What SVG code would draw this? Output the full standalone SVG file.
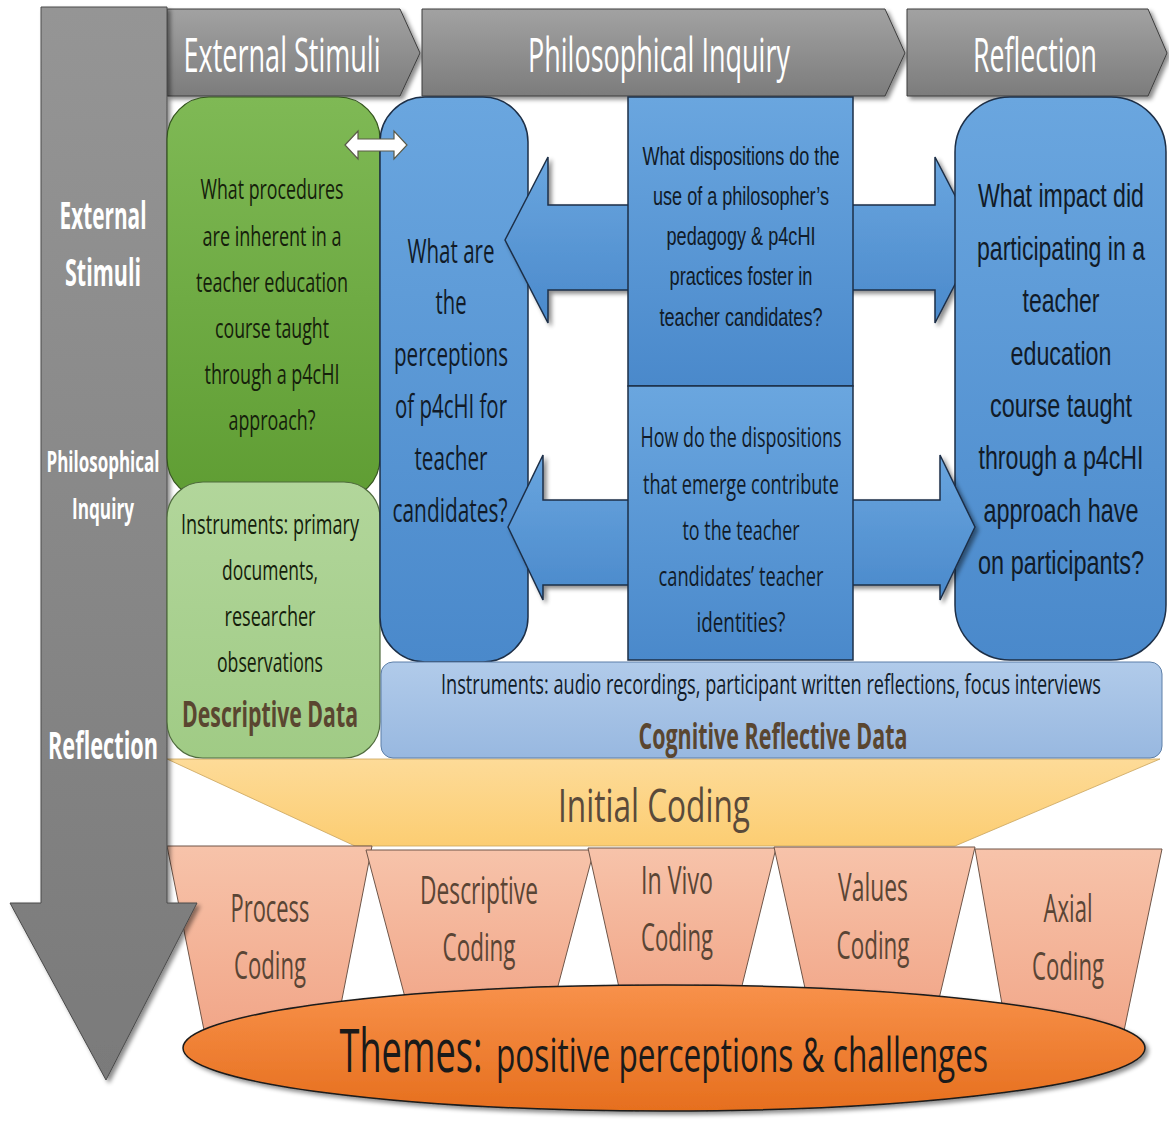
<svg xmlns="http://www.w3.org/2000/svg" width="1169" height="1128" viewBox="0 0 1169 1128">
<defs>
<linearGradient id="gGray" x1="0" y1="0" x2="0" y2="1"><stop offset="0" stop-color="#a2a2a2"/><stop offset="1" stop-color="#7c7c7c"/></linearGradient>
<linearGradient id="gCol" x1="0" y1="0" x2="0" y2="1"><stop offset="0" stop-color="#959595"/><stop offset="1" stop-color="#7a7a7a"/></linearGradient>
<linearGradient id="gGreen" x1="0" y1="0" x2="0" y2="1"><stop offset="0" stop-color="#7fb955"/><stop offset="1" stop-color="#5f9d33"/></linearGradient>
<linearGradient id="gLGreen" x1="0" y1="0" x2="0" y2="1"><stop offset="0" stop-color="#b2d69b"/><stop offset="1" stop-color="#a0cb85"/></linearGradient>
<linearGradient id="gBlue" x1="0" y1="0" x2="0" y2="1"><stop offset="0" stop-color="#6aa6df"/><stop offset="1" stop-color="#4a89cb"/></linearGradient>
<linearGradient id="gLBlue" x1="0" y1="0" x2="0" y2="1"><stop offset="0" stop-color="#b1cbea"/><stop offset="1" stop-color="#98b8e0"/></linearGradient>
<linearGradient id="gYellow" x1="0" y1="0" x2="0" y2="1"><stop offset="0" stop-color="#fddb98"/><stop offset="1" stop-color="#fccd72"/></linearGradient>
<linearGradient id="gSalmon" x1="0" y1="0" x2="0" y2="1"><stop offset="0" stop-color="#f7c3aa"/><stop offset="1" stop-color="#f1a587"/></linearGradient>
<linearGradient id="gOrange" x1="0" y1="0" x2="0" y2="1"><stop offset="0" stop-color="#f8914a"/><stop offset="1" stop-color="#e66f1e"/></linearGradient>
<filter id="sh" x="-10%" y="-10%" width="120%" height="130%"><feDropShadow dx="3" dy="3" stdDeviation="2" flood-color="#000" flood-opacity="0.45"/></filter>
<style>
.chev{fill:url(#gGray);stroke:#3c3c3c;stroke-width:1}
.ban{font-family:"Open Sans","Liberation Sans",sans-serif;fill:#ffffff;font-size:48px;text-anchor:middle}
.side{font-family:"Open Sans","Liberation Sans",sans-serif;fill:#ffffff;font-weight:bold;text-anchor:middle}
.cal{font-family:"Open Sans","Liberation Sans",sans-serif;text-anchor:middle}
.ar{font-family:"Liberation Sans","Arial",sans-serif;text-anchor:middle}
.dk{fill:#15200b}
.bk{fill:#111b28}
.br{fill:#5a4630;font-weight:bold}
.cod{fill:#5a4535;font-size:39px}
.blue{fill:url(#gBlue);stroke:#1d2f47;stroke-width:1.5}
.trap{fill:url(#gSalmon);stroke:#6e5548;stroke-width:1}
</style>
</defs>
<rect width="1169" height="1128" fill="#ffffff"/>

<g id="banners">
<polygon class="chev" filter="url(#sh)" points="167,9 400,9 420,53 400,96 167,96"/>
<polygon class="chev" filter="url(#sh)" points="422,9 885,9 905,53 885,96 422,96"/>
<polygon class="chev" filter="url(#sh)" points="907,9 1148,9 1167,53 1148,96 907,96"/>
<text class="ban" x="282" y="72" textLength="197" lengthAdjust="spacingAndGlyphs">External Stimuli</text>
<text class="ban" x="659" y="72" textLength="262" lengthAdjust="spacingAndGlyphs">Philosophical Inquiry</text>
<text class="ban" x="1035" y="72" textLength="124" lengthAdjust="spacingAndGlyphs">Reflection</text>
</g>

<g id="initial-coding">
<polygon points="167,759 1160,759 955,846 355,846" fill="url(#gYellow)" stroke="#c9a35a" stroke-width="0.8"/>
<text class="cal" x="654" y="822" font-size="46" fill="#5a4a3a" textLength="192" lengthAdjust="spacingAndGlyphs">Initial Coding</text>
</g>

<g id="coding">
<g id="process-coding"><polygon class="trap" points="167,846 372,846 334,1040 206,1040"/>
<text class="cal cod" x="270" y="922" textLength="79" lengthAdjust="spacingAndGlyphs">Process</text>
<text class="cal cod" x="270" y="979" textLength="72" lengthAdjust="spacingAndGlyphs">Coding</text></g>
<g id="descriptive-coding"><polygon class="trap" points="366,850 594,850 549,1020 411,1020"/>
<text class="cal cod" x="479" y="904" textLength="118" lengthAdjust="spacingAndGlyphs">Descriptive</text>
<text class="cal cod" x="479" y="961" textLength="73" lengthAdjust="spacingAndGlyphs">Coding</text></g>
<g id="invivo-coding"><polygon class="trap" points="588,848 776,848 736,1010 624,1010"/>
<text class="cal cod" x="677" y="894" textLength="72" lengthAdjust="spacingAndGlyphs">In Vivo</text>
<text class="cal cod" x="677" y="951" textLength="72" lengthAdjust="spacingAndGlyphs">Coding</text></g>
<g id="values-coding"><polygon class="trap" points="774,847 975,847 934,1020 812,1020"/>
<text class="cal cod" x="873" y="901" textLength="70" lengthAdjust="spacingAndGlyphs">Values</text>
<text class="cal cod" x="873" y="959" textLength="73" lengthAdjust="spacingAndGlyphs">Coding</text></g>
<g id="axial-coding"><polygon class="trap" points="975,849 1162,849 1120,1050 1010,1050"/>
<text class="cal cod" x="1068" y="922" textLength="49" lengthAdjust="spacingAndGlyphs">Axial</text>
<text class="cal cod" x="1068" y="980" textLength="72" lengthAdjust="spacingAndGlyphs">Coding</text></g>
</g>

<g id="themes">
<ellipse cx="664" cy="1048" rx="481" ry="63" fill="url(#gOrange)" stroke="#1a1a1a" stroke-width="1.5" filter="url(#sh)"/>
<text class="cal" x="411" y="1072" font-size="60" fill="#1a1a1a" textLength="143" lengthAdjust="spacingAndGlyphs">Themes:</text>
<text class="cal" x="742" y="1072" font-size="48" fill="#1a1a1a" textLength="492" lengthAdjust="spacingAndGlyphs">positive perceptions &amp; challenges</text>
</g>

<g id="stage-arrow">
<polygon points="41,7 167,7 167,903 197,903 106,1080 10,903 41,903" fill="url(#gCol)" stroke="#4a4a4a" stroke-width="1" filter="url(#sh)"/>
<text class="side" x="103" y="229" font-size="38" textLength="87" lengthAdjust="spacingAndGlyphs">External</text>
<text class="side" x="103" y="286" font-size="38" textLength="76" lengthAdjust="spacingAndGlyphs">Stimuli</text>
<text class="side" x="103" y="472" font-size="28" textLength="113" lengthAdjust="spacingAndGlyphs">Philosophical</text>
<text class="side" x="103" y="519" font-size="28" textLength="62" lengthAdjust="spacingAndGlyphs">Inquiry</text>
<text class="side" x="103" y="759" font-size="38" textLength="110" lengthAdjust="spacingAndGlyphs">Reflection</text>
</g>

<g id="procedures">
<rect x="167" y="97" width="213" height="403" rx="42" fill="url(#gGreen)" stroke="#34541e" stroke-width="1.2"/>
<g class="cal dk" font-size="28">
<text x="272" y="199" textLength="143" lengthAdjust="spacingAndGlyphs">What procedures</text>
<text x="272" y="246" textLength="139" lengthAdjust="spacingAndGlyphs">are inherent in a</text>
<text x="272" y="292" textLength="152" lengthAdjust="spacingAndGlyphs">teacher education</text>
<text x="272" y="338" textLength="114" lengthAdjust="spacingAndGlyphs">course taught</text>
<text x="272" y="384" textLength="135" lengthAdjust="spacingAndGlyphs">through a p4cHI</text>
<text x="272" y="430" textLength="87" lengthAdjust="spacingAndGlyphs">approach?</text>
</g>
</g>

<g id="descriptive-data">
<rect x="167" y="482" width="213" height="276" rx="36" fill="url(#gLGreen)" stroke="#4f6b3d" stroke-width="1.2"/>
<g class="cal dk" font-size="27">
<text x="270" y="534" textLength="178" lengthAdjust="spacingAndGlyphs">Instruments: primary</text>
<text x="270" y="580" textLength="96" lengthAdjust="spacingAndGlyphs">documents,</text>
<text x="270" y="626" textLength="91" lengthAdjust="spacingAndGlyphs">researcher</text>
<text x="270" y="672" textLength="106" lengthAdjust="spacingAndGlyphs">observations</text>
</g>
<text class="cal br" x="270" y="727" font-size="35" textLength="176" lengthAdjust="spacingAndGlyphs">Descriptive Data</text>
</g>

<g id="perceptions">
<rect class="blue" x="380" y="97" width="148" height="565" rx="45"/>
<g class="cal bk" font-size="33">
<text x="451" y="263" textLength="87" lengthAdjust="spacingAndGlyphs">What are</text>
<text x="451" y="314" textLength="31" lengthAdjust="spacingAndGlyphs">the</text>
<text x="451" y="366" textLength="114" lengthAdjust="spacingAndGlyphs">perceptions</text>
<text x="451" y="418" textLength="112" lengthAdjust="spacingAndGlyphs">of p4cHI for</text>
<text x="451" y="470" textLength="73" lengthAdjust="spacingAndGlyphs">teacher</text>
<text x="450" y="522" textLength="115" lengthAdjust="spacingAndGlyphs">candidates?</text>
</g>
</g>

<g id="connectors">
<polygon points="345,145 358,131 358,139 394,139 394,131 407,145 394,159 394,151 358,151 358,159" fill="#ffffff" stroke="#5a5a48" stroke-width="1.2"/>
<polygon class="blue" filter="url(#sh)" points="505,240 548,157 548,205 935,205 935,157 978,240 935,323 935,290 548,290 548,323"/>
</g>

<g id="impact">
<rect class="blue" x="955" y="97" width="211" height="563" rx="55"/>
<g class="ar bk" font-size="34">
<text x="1061" y="207" textLength="166" lengthAdjust="spacingAndGlyphs">What impact did</text>
<text x="1061" y="260" textLength="168" lengthAdjust="spacingAndGlyphs">participating in a</text>
<text x="1061" y="312" textLength="77" lengthAdjust="spacingAndGlyphs">teacher</text>
<text x="1061" y="365" textLength="101" lengthAdjust="spacingAndGlyphs">education</text>
<text x="1061" y="417" textLength="142" lengthAdjust="spacingAndGlyphs">course taught</text>
<text x="1061" y="469" textLength="165" lengthAdjust="spacingAndGlyphs">through a p4cHI</text>
<text x="1061" y="522" textLength="155" lengthAdjust="spacingAndGlyphs">approach have</text>
<text x="1061" y="574" textLength="166" lengthAdjust="spacingAndGlyphs">on participants?</text>
</g>
</g>

<g id="connectors-lower">
<polygon class="blue" filter="url(#sh)" points="508,527 543,455 543,500 940,500 940,455 975,527 940,600 940,585 543,585 543,600"/>
</g>

<g id="dispositions">
<rect class="blue" x="628" y="97" width="225" height="289" stroke-width="1.2"/>
<g class="ar bk" font-size="25">
<text x="741" y="165" textLength="197" lengthAdjust="spacingAndGlyphs">What dispositions do the</text>
<text x="741" y="205" textLength="176" lengthAdjust="spacingAndGlyphs">use of a philosopher’s</text>
<text x="741" y="245" textLength="149" lengthAdjust="spacingAndGlyphs">pedagogy &amp; p4cHI</text>
<text x="741" y="285" textLength="143" lengthAdjust="spacingAndGlyphs">practices foster in</text>
<text x="741" y="326" textLength="163" lengthAdjust="spacingAndGlyphs">teacher candidates?</text>
</g>
</g>

<g id="identities">
<rect class="blue" x="628" y="386" width="225" height="274" stroke-width="1.2"/>
<g class="cal bk" font-size="27">
<text x="741" y="447" textLength="201" lengthAdjust="spacingAndGlyphs">How do the dispositions</text>
<text x="741" y="494" textLength="196" lengthAdjust="spacingAndGlyphs">that emerge contribute</text>
<text x="741" y="540" textLength="117" lengthAdjust="spacingAndGlyphs">to the teacher</text>
<text x="741" y="586" textLength="165" lengthAdjust="spacingAndGlyphs">candidates’ teacher</text>
<text x="741" y="632" textLength="89" lengthAdjust="spacingAndGlyphs">identities?</text>
</g>
</g>

<g id="cognitive-data">
<rect x="381" y="662" width="781" height="96" rx="12" fill="url(#gLBlue)" stroke="#5d7fa8" stroke-width="1"/>
<text class="cal bk" x="771" y="694" font-size="27" textLength="660" lengthAdjust="spacingAndGlyphs">Instruments: audio recordings, participant written reflections, focus interviews</text>
<text class="cal br" x="773" y="749" font-size="35" textLength="269" lengthAdjust="spacingAndGlyphs">Cognitive Reflective Data</text>
</g>
</svg>
